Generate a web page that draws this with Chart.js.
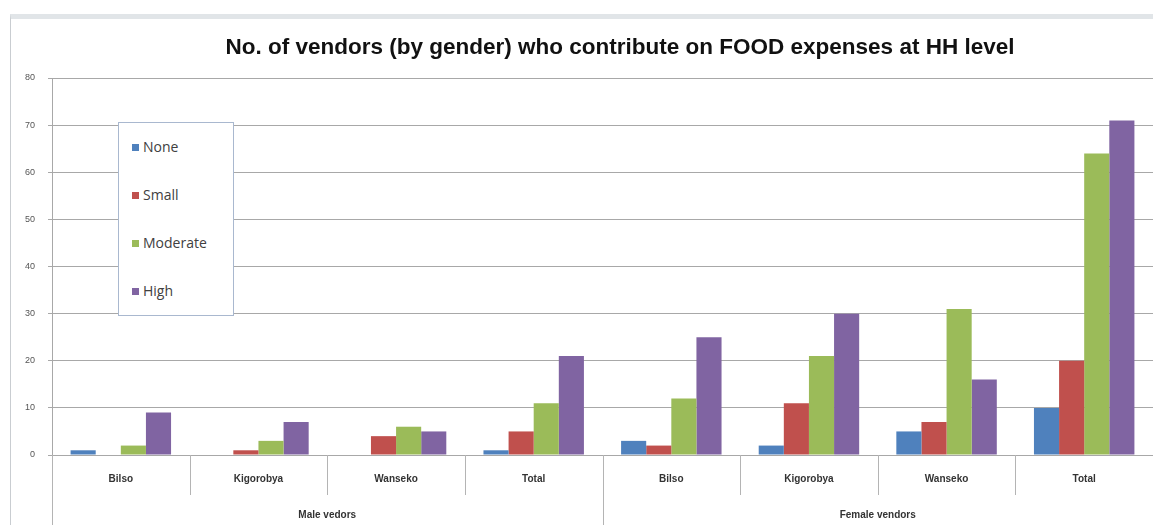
<!DOCTYPE html>
<html>
<head>
<meta charset="utf-8">
<script src="https://cdn.jsdelivr.net/npm/chart.js@4"></script>
<style>
  body { margin: 0; background: #fff; }
  #wrap { position: relative; width: 1153px; height: 525px; overflow: hidden; }
  #frame { position: absolute; left: 10px; top: 14px; right: 0; bottom: 0;
           border-top: 5px solid #e1e5e8; border-left: 1px solid #c9cdd1; }
  #legend { position: absolute; left: 118px; top: 122px; width: 114px; height: 192px;
            border: 1px solid #a9b8cf; background: #fff;
            font-family: "Open Sans", "Liberation Sans", sans-serif; font-size: 14px; color: #404040; }
  .item { position: absolute; left: 13px; height: 20px; line-height: 20px; white-space: nowrap; }
  .sw { display: inline-block; width: 7px; height: 7px; margin-right: 4px; vertical-align: 1px; }
</style>
</head>
<body>
<div id="wrap">
  <div id="frame"></div>
  <canvas id="chart" width="1153" height="525"></canvas>
  <div id="legend"></div>
</div>
<script>
// categories and groups
const categories = ['Bilso', 'Kigorobya', 'Wanseko', 'Total', 'Bilso', 'Kigorobya', 'Wanseko', 'Total'];
const groups = ['Male vedors', 'Female vendors'];

// series values (male x4, female x4)
const noneVals     = [1, 0, 0, 1, 3, 2, 5, 10];
const smallVals    = [0, 1, 4, 5, 2, 11, 7, 20];
const moderateVals = [2, 3, 6, 11, 12, 21, 31, 64];
const highVals     = [9, 7, 5, 21, 25, 30, 16, 71];

const yTicks = [0, 10, 20, 30, 40, 50, 60, 70, 80];
const titleText = 'No. of vendors (by gender) who contribute on FOOD expenses at HH level';

// draws the title, the category separators and the group labels
const decorPlugin = {
    id: 'decor',
    afterDraw(chart) {
        const ctx = chart.ctx;
        const x = chart.scales.x;
        const area = chart.chartArea;
        const half = (x.getPixelForValue(1) - x.getPixelForValue(0)) / 2;

        ctx.save();
        // title
        ctx.font = 'bold 22.5px "Liberation Sans", Arial, sans-serif';
        ctx.fillStyle = '#111';
        ctx.textAlign = 'center';
        ctx.textBaseline = 'middle';
        ctx.fillText(titleText, 620, 48);

        // separators
        ctx.strokeStyle = '#b4b4b4';
        ctx.lineWidth = 1;
        for (let i = 0; i <= categories.length; i++) {
            const px = Math.round(x.getPixelForValue(i) - half) + 0.5;
            const isGroupEdge = i % 4 === 0;
            ctx.beginPath();
            ctx.moveTo(px, area.bottom);
            ctx.lineTo(px, isGroupEdge ? 525 : area.bottom + 40);
            ctx.stroke();
        }

        // group labels
        ctx.font = 'bold 10px "Liberation Sans", Arial, sans-serif';
        ctx.fillStyle = '#333';
        groups.forEach((g, gi) => {
            const cx = (x.getPixelForValue(gi * 4) + x.getPixelForValue(gi * 4 + 3)) / 2;
            ctx.fillText(g, cx, 515);
        });
        ctx.restore();
    }
};

const colors = ['#4F81BD', '#C0504D', '#9BBB59', '#8064A2'];

const chart = new Chart(document.getElementById('chart'), {
    type: 'bar',
    data: {
        labels: categories,
        datasets: [
            { label: 'None', data: noneVals, backgroundColor: colors[0] },
            { label: 'Small', data: smallVals, backgroundColor: colors[1] },
            { label: 'Moderate', data: moderateVals, backgroundColor: colors[2] },
            { label: 'High', data: highVals, backgroundColor: colors[3] }
        ]
    },
    options: {
        responsive: false,
        animation: false,
        layout: { padding: { top: 78, left: 12, right: 0, bottom: 30 } },
        datasets: { bar: { categoryPercentage: 0.73, barPercentage: 1.0 } },
        plugins: {
            legend: { display: false },
            title: { display: false },
            tooltip: { enabled: false }
        },
        scales: {
            x: {
                grid: { display: false },
                border: { display: false },
                ticks: {
                    padding: 10,
                    color: '#333',
                    font: { family: '"Liberation Sans", Arial, sans-serif', size: 10, weight: 'bold' }
                }
            },
            y: {
                min: 0,
                max: 80,
                afterBuildTicks: axis => { axis.ticks = yTicks.map(v => ({ value: v })); },
                grid: { color: '#a8a8a8', tickLength: 4, tickColor: '#a8a8a8' },
                border: { color: '#a8a8a8' },
                ticks: {
                    padding: 13,
                    color: '#555',
                    font: { family: '"Liberation Sans", Arial, sans-serif', size: 9 }
                }
            }
        }
    },
    plugins: [decorPlugin]
});

// legend box built from the datasets
const legend = document.getElementById('legend');
chart.data.datasets.forEach((ds, i) => {
    const item = document.createElement('div');
    item.className = 'item';
    item.style.top = (14 + i * 48) + 'px';
    item.innerHTML = '<span class="sw" style="background:' + ds.backgroundColor + '"></span>' + ds.label;
    legend.appendChild(item);
});
</script>
</body>
</html>
